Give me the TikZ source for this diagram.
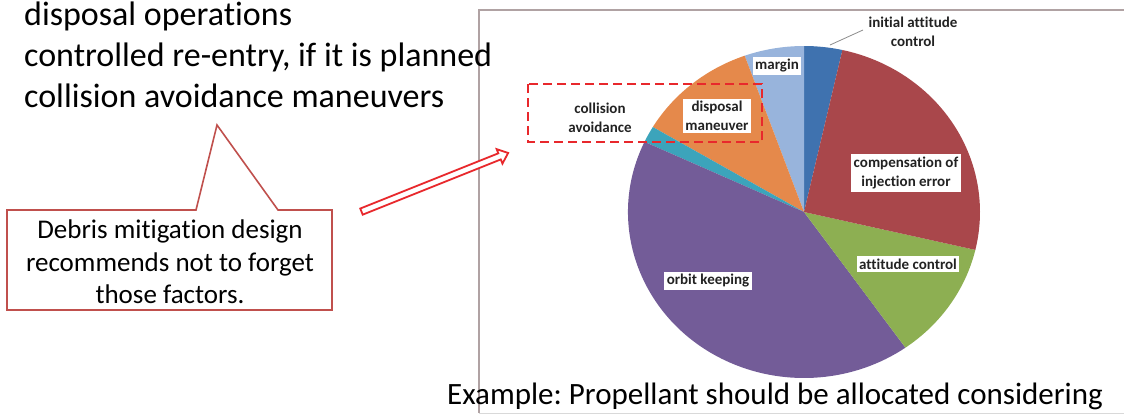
\documentclass[tikz,border=0pt]{standalone}
\usepackage{fontspec}
\setmainfont{Carlito}[Ligatures=NoCommon]
\usetikzlibrary{shapes.arrows, calc}
\frenchspacing

% slice colours of the propellant budget chart
\definecolor{slDarkBlue}{HTML}{3F72AF}
\definecolor{slLightBlue}{HTML}{98B4DC}
\definecolor{slOrange}{HTML}{E5894B}
\definecolor{slTeal}{HTML}{3CA4BB}
\definecolor{slPurple}{HTML}{735C98}
\definecolor{slGreen}{HTML}{8DAF52}
\definecolor{slRed}{HTML}{A9474B}
% annotation colours
\definecolor{calloutRed}{HTML}{C0504D}
\definecolor{markRed}{HTML}{E8282C}
\definecolor{frameGray}{HTML}{B0A2A3}
\definecolor{labelInk}{HTML}{222222}

\tikzset{
  maintext/.style={font=\fontsize{34}{41}\selectfont, anchor=base west, inner sep=0pt},
  notetext/.style={font=\fontsize{27}{32.5}\selectfont, align=center, inner sep=0pt},
  pielabel/.style={font=\bfseries\fontsize{15}{19}\selectfont, align=center,
                   text=labelInk, inner sep=2.5pt},
  pielabelbox/.style={pielabel, fill=white},
}

\begin{document}
\begin{tikzpicture}[x=1pt, y=1pt]
  \useasboundingbox (0,0) rectangle (1124,-415);

  % frame of the chart panel
  \draw[black!15, line width=1pt] (479,-413) -- (1124,-413);
  \draw[frameGray, line width=1.5pt] (479,-413) -- (479,-10) -- (1124,-10);

  % pie chart
  \coordinate (pc) at (804,-212);
  \foreach \a/\b/\c in {77.4/90/slDarkBlue, 90/109.7/slLightBlue,
                        109.7/149.2/slOrange, 149.2/155/slTeal,
                        155/305.2/slPurple, -54.8/-13.2/slGreen,
                        -13.2/77.4/slRed}
    \fill[\c] (pc) -- ++(\a:176 and 166)
      arc[start angle=\a, end angle=\b, x radius=176, y radius=166] -- cycle;

  % slice labels
  \node[pielabel] (lInit) at (913,-32) {initial attitude\\control};
  \coordinate (initTip) at (830,-45);
  \draw[black!45, line width=0.8pt] (initTip) -- (863,-30);
  \node[pielabelbox] (lMargin) at (777,-66) {margin};
  \node[pielabelbox] (lDisposal) at (717,-116) {disposal\\maneuver};
  \node[pielabel] (lCollision) at (600,-118) {collision\\avoidance};
  \node[pielabelbox] (lComp) at (906,-173) {compensation of\\injection error};
  \node[pielabelbox] (lAtt) at (908,-264) {attitude control};
  \node[pielabelbox] (lOrbit) at (708,-281) {orbit keeping};

  % highlighted group of labels
  \draw[markRed, line width=2.5pt, dash pattern=on 9pt off 5pt]
    (528,-84) rectangle (762,-142);

  % bullet text at the top left
  \node[maintext] (t1) at (24,-25) {disposal operations};
  \node[maintext] (t2) at (24,-66) {controlled re-entry, if it is planned};
  \node[maintext] (t3) at (24,-107) {collision avoidance maneuvers};

  % callout note with its pointer
  \draw[calloutRed, line width=1.6pt, fill=white, line join=miter]
    (7,-210) -- (196,-210) -- (217,-125) -- (278,-210) -- (332,-210)
    -- (332,-310) -- (7,-310) -- cycle;
  \node[notetext] (note) at (170,-262)
    {Debris mitigation design\\recommends not to forget\\those factors.};

  % hollow arrow from the note towards the highlighted labels
  \coordinate (arrowStart) at (358,-213);
  \coordinate (arrowEnd) at (508,-153);
  \node[single arrow, draw=markRed, line width=1.8pt, fill=white,
        minimum height=158pt, inner sep=2.4pt,
        single arrow head extend=4.5pt, single arrow tip angle=80,
        rotate=21.8] (hint) at ($(arrowStart)!0.5!(arrowEnd)$) {};

  % caption at the bottom
  \node[font=\fontsize{31}{37}\selectfont, anchor=base west, inner sep=0pt]
    (caption) at (447,-404) {Example: Propellant should be allocated considering};
\end{tikzpicture}
\end{document}
